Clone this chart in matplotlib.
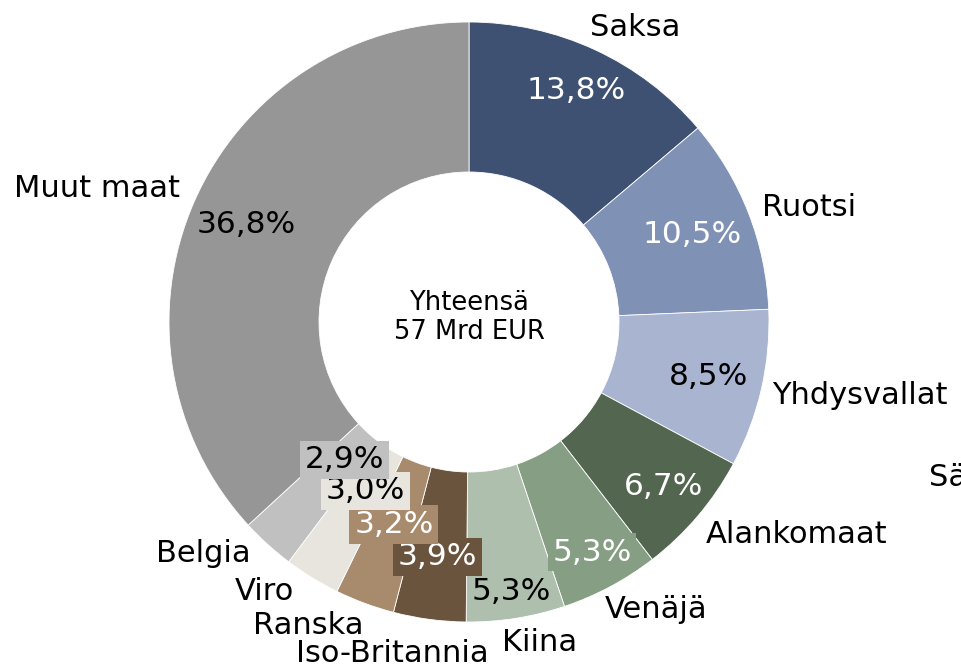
import matplotlib.pyplot as plt
import numpy as np

# ---------------------------------------------------------------------------
# Data
# ---------------------------------------------------------------------------
countries = ['Saksa', 'Ruotsi', 'Yhdysvallat', 'Alankomaat', 'Venäjä', 'Kiina',
             'Iso-Britannia', 'Ranska', 'Viro', 'Belgia', 'Muut maat']
shares = [13.8, 10.5, 8.5, 6.7, 5.3, 5.3, 3.9, 3.2, 3.0, 2.9, 36.8]
pct_labels = ['13,8%', '10,5%', '8,5%', '6,7%', '5,3%', '5,3%',
              '3,9%', '3,2%', '3,0%', '2,9%', '36,8%']
center_text = 'Yhteensä\n57 Mrd EUR'

colors = ['#3F5173', '#7F91B5', '#A9B5D0', '#526650', '#869E83', '#AEBFAE',
          '#6B543D', '#A88A6D', '#E8E5DE', '#C0C0C0', '#969696']
pct_colors = ['white', 'white', 'black', 'white', 'white', 'black',
              'white', 'white', 'black', 'black', 'black']
# small slices get a box behind the percentage
boxed = [False, False, False, False, True, False, True, True, True, True, False]

# label layout (radius of percentage, radius/angle nudge of outer name)
pct_radius = [0.85, 0.80, 0.82, 0.85, 0.87, 0.91, 0.79, 0.72, 0.66, 0.62, 0.81]
name_radius = [1.06, 1.05, 1.04, 1.06, 1.06, 1.075, 1.107, 1.07, 1.07, 1.06, 1.06]
name_nudge = [2.5, 0, -0.8, -1.7, -2.9, -3.2, 11.0, 1.2, -1.4, -1.1, -1.1]

DPI = 100
W, H = 961, 669
CX, CY, R = 469, 322, 300

fig = plt.figure(figsize=(W / DPI, H / DPI), dpi=DPI)
ax = fig.add_axes([0, 0, 1, 1])

wedges, _ = ax.pie(shares, colors=colors, startangle=90, counterclock=False,
                   radius=1.0, wedgeprops=dict(width=0.5, edgecolor='white', linewidth=0.6))

# pie() resets the limits, so set them afterwards
ax.set_xlim(-CX / R, (W - CX) / R)
ax.set_ylim(-(H - CY) / R, CY / R)
ax.set_aspect('equal')
ax.axis('off')

for i, w in enumerate(wedges):
    mid_deg = (w.theta1 + w.theta2) / 2
    mid = np.deg2rad(mid_deg)
    r = pct_radius[i]
    bbox = None
    if boxed[i]:
        bbox = dict(boxstyle='square,pad=0.15', facecolor=colors[i], edgecolor='none')
    ax.text(r * np.cos(mid), r * np.sin(mid), pct_labels[i], fontsize=22.5,
            color=pct_colors[i], ha='center', va='center', bbox=bbox)

    ang = np.deg2rad(mid_deg + name_nudge[i])
    rn = name_radius[i]
    x, y = rn * np.cos(ang), rn * np.sin(ang)
    ha = 'left' if np.cos(mid) > 0 else 'right'
    ax.text(x, y, countries[i], fontsize=22, ha=ha, va='center')

ax.text(0, 0.015, center_text, fontsize=18.5, ha='center', va='center',
        linespacing=1.15)
# partially hidden label at the right border (cut off in the original too)
ax.text((929 - CX) / R, (CY - 478) / R, 'Säännöt', fontsize=22, ha='left', va='center')

fig.savefig('out.png', dpi=DPI)
